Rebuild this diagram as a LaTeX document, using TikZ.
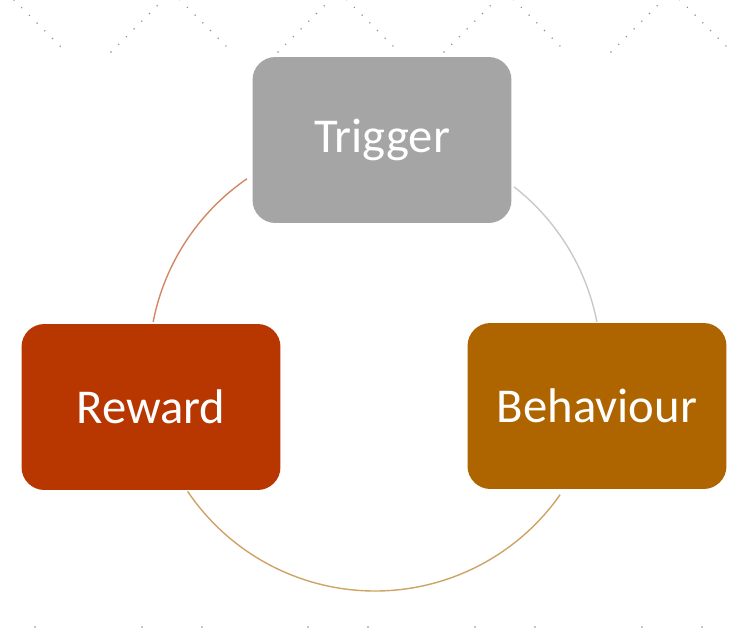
\documentclass[tikz,border=0pt]{standalone}
\usepackage{fontspec}
\setmainfont{Carlito}
\usepackage{xcolor}
\usepackage{tikz}

\definecolor{trigcol}{HTML}{A5A5A5}
\definecolor{rewcol}{HTML}{B83700}
\definecolor{behcol}{HTML}{AE6500}
\definecolor{dotcol}{HTML}{8C8C8C}

\tikzset{
  stagebox/.style={rectangle,rounded corners=13pt,minimum width=5.18cm,minimum height=3.32cm,
    text=white,font=\fontsize{27.7}{33}\selectfont},
  cyclearc/.style={line width=0.8pt},
  zigzag/.style={dotcol,line width=0.9pt,line cap=round,dash pattern=on 0pt off 6.2pt}
}

\begin{document}
\begin{tikzpicture}[x=0.02cm,y=-0.02cm]
  \useasboundingbox (0,0) rectangle (750,629);
  \begin{scope}
    \clip (0,0) rectangle (750,629);
    % dotted zigzag along the top
    \draw[zigzag] (14,0) -- (66,52);
    \draw[zigzag] (111,52) -- (171,-8);
    \draw[zigzag] (172,-8) -- (232,52);
    \draw[zigzag] (278,52) -- (338,-8);
    \draw[zigzag] (339,-8) -- (399,52);
    \draw[zigzag] (444,52) -- (504,-8);
    \draw[zigzag] (506,-8) -- (566,52);
    \draw[zigzag] (611,52) -- (671,-8);
    \draw[zigzag] (672,-8) -- (732,52);
    % tips of the next row along the bottom
    \draw[zigzag] (35,627) -- (5,657);
    \draw[zigzag] (142,627) -- (112,657);
    \draw[zigzag] (202,627) -- (232,657);
    \draw[zigzag] (308,627) -- (278,657);
    \draw[zigzag] (368,627) -- (398,657);
    \draw[zigzag] (475,627) -- (445,657);
    \draw[zigzag] (535,627) -- (565,657);
    \draw[zigzag] (642,627) -- (612,657);
    \draw[zigzag] (702,627) -- (732,657);
  \end{scope}

  \coordinate (hub) at (375,365);

  \node[stagebox,fill=trigcol] (trigger) at (382,140) {Trigger};
  \node[stagebox,fill=behcol] (behaviour) at (597,406) {Behaviour};
  \node[stagebox,fill=rewcol] (reward) at (151,407) {Reward};

  % connecting arcs on the circle through the box centres
  \draw[cyclearc,trigcol!60] ([shift={(-52:226)}]hub) arc[start angle=-52,end angle=-11,radius=226];
  \draw[cyclearc,behcol!60] ([shift={(35:226)}]hub) arc[start angle=35,end angle=146,radius=226];
  \draw[cyclearc,rewcol!60] ([shift={(-169:226)}]hub) arc[start angle=-169,end angle=-124.5,radius=226];
\end{tikzpicture}
\end{document}
